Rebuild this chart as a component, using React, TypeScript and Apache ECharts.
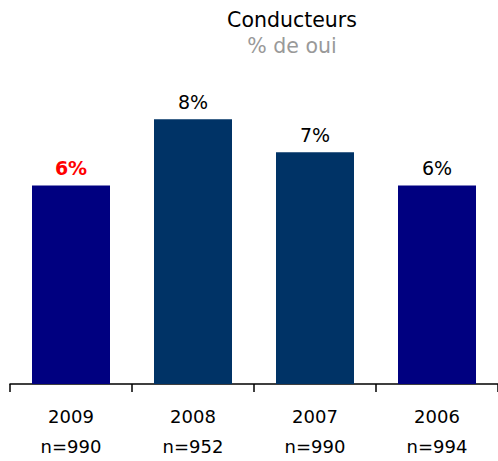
import React, { useEffect, useRef } from "react";
import * as echarts from "echarts";

const years = ["2009", "2008", "2007", "2006"];
const counts = ["n=990", "n=952", "n=990", "n=994"];
const values = [6, 8, 7, 6];
const barColors = ["#000080", "#003366", "#003366", "#000080"];
const highlightIndex = 0;

export default function App() {
  const ref = useRef<HTMLDivElement>(null);
  useEffect(() => {
    if (!ref.current) return;
    const chart = echarts.init(ref.current, null, { renderer: "svg" });
    const font = "DejaVu Sans, Verdana, sans-serif";
    chart.setOption({
      animation: false,
      title: [
        {
          text: "Conducteurs",
          left: 287,
          top: 4,
          textAlign: "center",
          textStyle: { fontFamily: font, fontSize: 20.5, fontWeight: "normal", color: "#000" },
        },
        {
          text: "% de oui",
          left: 287,
          top: 30,
          textAlign: "center",
          textStyle: { fontFamily: font, fontSize: 20.5, fontWeight: "normal", color: "#999999" },
        },
      ],
      grid: { left: 10, right: -3, top: 53, bottom: 71 },
      xAxis: {
        type: "category",
        data: years.map((y, i) => y + "\n" + counts[i]),
        axisLine: { lineStyle: { color: "#000", width: 1.5 } },
        axisTick: { show: true, length: 8, lineStyle: { color: "#000", width: 1.5 } },
        axisLabel: {
          margin: 17,
          fontFamily: font,
          fontSize: 18,
          lineHeight: 30,
          color: "#000",
        },
      },
      yAxis: { type: "value", min: 0, max: 10, show: false, splitLine: { show: false } },
      series: [
        {
          type: "bar",
          barWidth: 78,
          data: values.map((v, i) => ({
            value: v,
            itemStyle: { color: barColors[i] },
            label:
              i === highlightIndex
                ? { color: "#ff0000", fontWeight: "bold" }
                : undefined,
          })),
          label: {
            show: true,
            position: "top",
            distance: 7.5,
            formatter: "{c}%",
            fontFamily: font,
            fontSize: 19,
            color: "#000",
          },
        },
      ],
    });
    return () => chart.dispose();
  }, []);
  return (
    <div
      ref={ref}
      style={{ position: "absolute", left: 0, top: 0, width: 498, height: 461, background: "#fff" }}
    />
  );
}
